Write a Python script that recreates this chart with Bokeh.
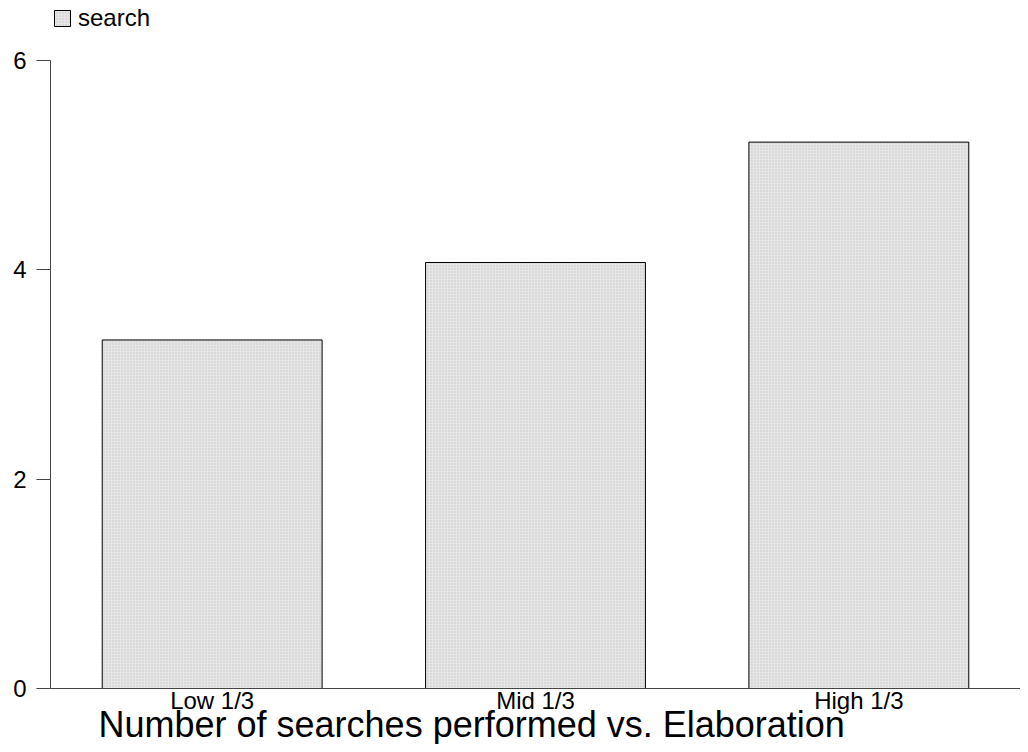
from bokeh.plotting import figure
from bokeh.models import FactorRange, Range1d, FixedTicker, Legend, LegendItem, Title, ColumnDataSource
from bokeh.embed import file_html
from bokeh.resources import INLINE

categories = ["Low 1/3", "Mid 1/3", "High 1/3"]
search_values = [3.33, 4.07, 5.22]
y_ticks = [0, 2, 4, 6]
series_name = "search"
chart_title = "Number of searches performed vs. Elaboration"

FONT = "Liberation Sans"

src = ColumnDataSource(dict(cat=categories, val=search_values))

p = figure(width=1020, height=744, output_backend="svg", toolbar_location=None,
           x_range=FactorRange(*categories, range_padding=0), y_range=Range1d(0, 6.573),
           min_border_left=50, min_border_right=0, min_border_top=0, min_border_bottom=56)
p.outline_line_color = None
p.xgrid.visible = False
p.ygrid.visible = False

r = p.vbar(x="cat", top="val", width=0.68, source=src,
           fill_color="#e6e6e6", line_color="#000000", line_width=1,
           hatch_pattern="dot", hatch_scale=3, hatch_color="#c4c4c4", hatch_weight=1)

p.yaxis.ticker = FixedTicker(ticks=y_ticks)
p.yaxis.bounds = (0, 6)
p.yaxis.major_tick_out = 14
p.yaxis.major_tick_in = 0
p.yaxis.minor_tick_line_color = None
p.yaxis.axis_line_color = "#444444"
p.yaxis.major_tick_line_color = "#444444"
p.yaxis.major_label_text_font = FONT
p.yaxis.major_label_text_font_size = "24px"
p.yaxis.major_label_text_color = "#000000"
p.yaxis.major_label_standoff = 10

p.xaxis.major_tick_line_color = None
p.xaxis.minor_tick_line_color = None
p.xaxis.major_tick_out = 0
p.xaxis.major_tick_in = 0
p.xaxis.axis_line_color = "#444444"
p.xaxis.major_label_text_font = FONT
p.xaxis.major_label_text_font_size = "24px"
p.xaxis.major_label_text_color = "#000000"
p.xaxis.major_label_standoff = -2

title = Title(text=chart_title, align="left", offset=48, text_font=FONT,
              text_font_size="36px", text_font_style="normal", text_color="#000000",
              standoff=-29)
p.add_layout(title, "below")

legend = Legend(items=[LegendItem(label=series_name, renderers=[r])],
                location=(2, 656), orientation="horizontal",
                label_text_font=FONT, label_text_font_size="24px", label_text_color="#000000",
                glyph_width=20, glyph_height=20, label_standoff=6, label_height=20,
                padding=0, margin=0, spacing=0, border_line_color=None,
                background_fill_alpha=0)
p.add_layout(legend)

open("out.html", "w").write(file_html(p, INLINE))
